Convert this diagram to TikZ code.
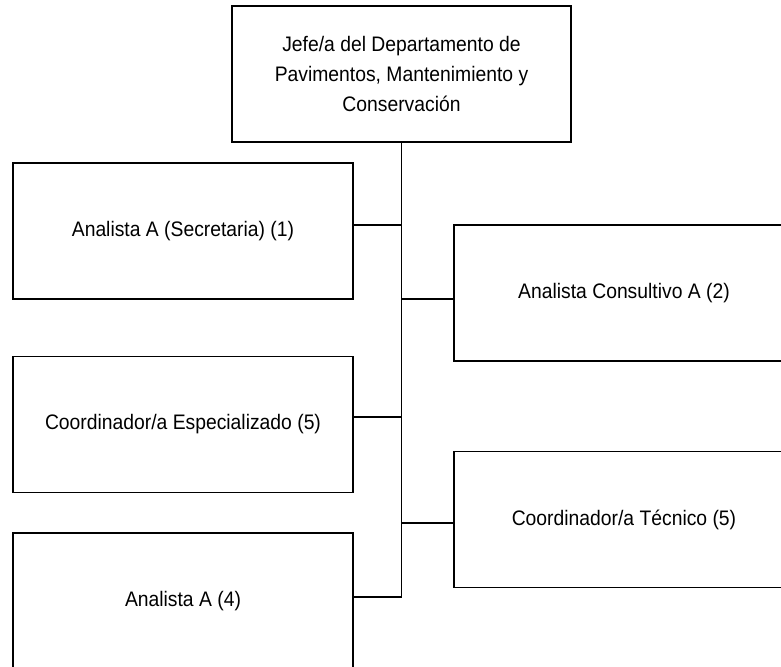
\documentclass[tikz,border=0pt]{standalone}
\usepackage{fontspec}
\setmainfont{Liberation Sans}[FakeStretch=0.92]
\usetikzlibrary{positioning, calc}

\begin{document}
\begin{tikzpicture}[
  x=1pt, y=-1pt,
  ubox/.style={draw, line width=1.8pt, minimum width=340pt, minimum height=136pt, align=center, inner sep=6pt, font=\fontsize{21}{30}\selectfont},
  link/.style={line width=1.8pt}
]
  \useasboundingbox (0,0) rectangle (781,666);

  \node[ubox, minimum width=339pt] (jefe) at (401.5, 74) {Jefe/a del Departamento de\\Pavimentos, Mantenimiento y\\Conservación};

  % left column
  \node[ubox] (secre) at (183, 231) {Analista A (Secretaria) (1)};
  \node[ubox] (coorde) at (183, 424.5) {Coordinador/a Especializado (5)};
  \node[ubox] (ana4) at (183, 601) {Analista A (4)};

  % right column (cut at the page edge)
  \node[ubox] (consul) at (624, 293) {Analista Consultivo A (2)};
  \node[ubox] (coordt) at (624, 519.5) {Coordinador/a Técnico (5)};

  \draw[link] (jefe.south) -- ([yshift=4pt]ana4.east -| jefe.south);
  \draw[link] ([yshift=6pt]secre.east) -- ([yshift=6pt]secre.east -| jefe.south);
  \draw[link] ([yshift=-6pt]consul.west) -- ([yshift=-6pt]consul.west -| jefe.south);
  \draw[link] ([yshift=7.5pt]coorde.east) -- ([yshift=7.5pt]coorde.east -| jefe.south);
  \draw[link] ([yshift=-3.5pt]coordt.west) -- ([yshift=-3.5pt]coordt.west -| jefe.south);
  \draw[link] ([yshift=4pt]ana4.east) -- ([yshift=4pt]ana4.east -| jefe.south);
\end{tikzpicture}
\end{document}
